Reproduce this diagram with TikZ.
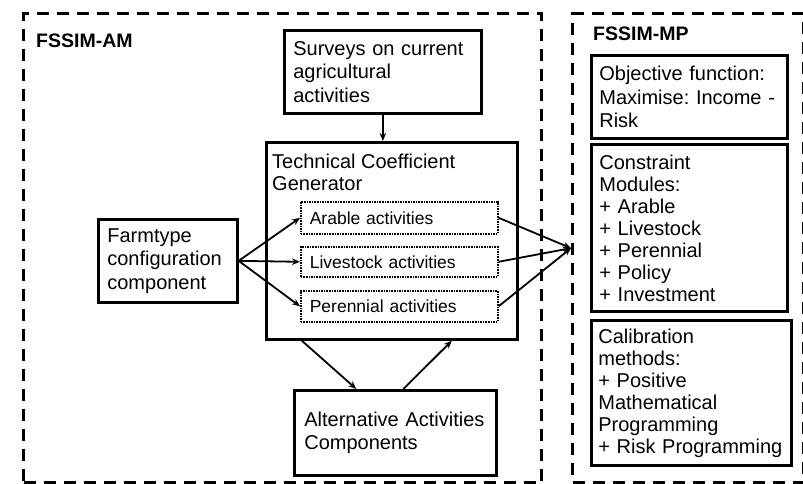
\documentclass[tikz,border=0pt]{standalone}
\usepackage{fontspec}
\setmainfont{Liberation Sans}
\usetikzlibrary{arrows.meta, positioning}
\frenchspacing

\begin{document}
\begin{tikzpicture}[x=1pt, y=-1pt, >={Stealth[length=8pt, width=6.5pt]}]
\tikzstyle{module} = [rectangle, draw, dash pattern=on 12pt off 8pt, line width=3.3pt, anchor=north west, inner sep=0pt]
\tikzstyle{block} = [rectangle, draw, line width=2.7pt, anchor=north west, align=left, inner xsep=9pt, inner ysep=0pt, font=\fontsize{20}{23.5}\selectfont]
\tikzstyle{activity} = [rectangle, draw, densely dotted, line width=1.6pt, anchor=north west, align=left, inner xsep=9pt, inner ysep=0pt, minimum width=197pt, text width=179pt, font=\fontsize{17.5}{20}\selectfont]
\tikzstyle{flow} = [->, line width=1.8pt]
\tikzstyle{heading} = [anchor=base west, inner sep=0pt, font=\fontsize{19.5}{22}\selectfont\bfseries]

\useasboundingbox (0,0) rectangle (803,483);

% the two models
\node (am) [module, minimum width=518pt, minimum height=469pt] at (22,12) {};
\node (mp) [module, minimum width=231pt, minimum height=469pt] at (571,12) {};
\node (amtitle) [heading] at (36,47) {FSSIM-AM};
\node (mptitle) [heading] at (593,40) {FSSIM-MP};

% FSSIM-AM
\node (surveys) [block, minimum width=197pt, minimum height=83pt, text width=179pt] at (283,29) {Surveys on current\\agricultural\\activities};
\node (tcg) [block, minimum width=251pt, minimum height=197pt] at (265,141) {};
\node (tcglabel) [anchor=north west, align=left, inner sep=0pt, font=\fontsize{20}{22}\selectfont] at ([xshift=7pt, yshift=-13pt]tcg.north west) {Technical Coefficient\\Generator};
\node (arable) [activity, minimum height=32pt] at (300,201) {Arable activities};
\node (livestock) [activity, minimum height=30pt] at (300,246) {Livestock activities};
\node (perennial) [activity, minimum height=31pt] at (300,290) {Perennial activities};
\node (farm) [block, minimum width=139pt, minimum height=83pt, text width=121pt] at (97,218) {Farmtype\\configuration\\component};
\node (alt) [block, minimum width=202pt, minimum height=85pt, text width=182pt, inner xsep=10pt] at (293,389) {Alternative Activities\\Components};

% FSSIM-MP
\node (objective) [block, minimum width=196pt, minimum height=83pt, text width=180pt, inner xsep=8pt] at (590,54) {Objective function:\\Maximise: Income -\\Risk};
\node (constraints) [block, minimum width=196pt, minimum height=167pt, text width=180pt, inner xsep=8pt, font=\fontsize{20}{22}\selectfont] at (590,143) {Constraint\\Modules:\\+ Arable\\+ Livestock\\+ Perennial\\+ Policy\\+ Investment};
\node (calibration) [block, minimum width=200pt, minimum height=145pt, text width=186pt, inner xsep=7pt, font=\fontsize{20}{22}\selectfont] at (590,319) {Calibration\\methods:\\+ Positive\\Mathematical\\Programming\\+ Risk Programming};

% flows
\draw[flow] (surveys.south) -- (surveys.south |- tcg.north);
\draw[flow] (farm.east) -- (arable.west);
\draw[flow] (farm.east) -- (livestock.west);
\draw[flow] (farm.east) -- (perennial.west);
\draw[flow] (arable.east) -- (mp.west);
\draw[flow] (livestock.east) -- (mp.west);
\draw[flow] (perennial.east) -- (mp.west);
\draw[flow] ([xshift=-90pt]tcg.south) -- ([xshift=-39pt]alt.north);
\draw[flow] ([xshift=8pt]alt.north) -- ([xshift=60pt]tcg.south);

\end{tikzpicture}
\end{document}
